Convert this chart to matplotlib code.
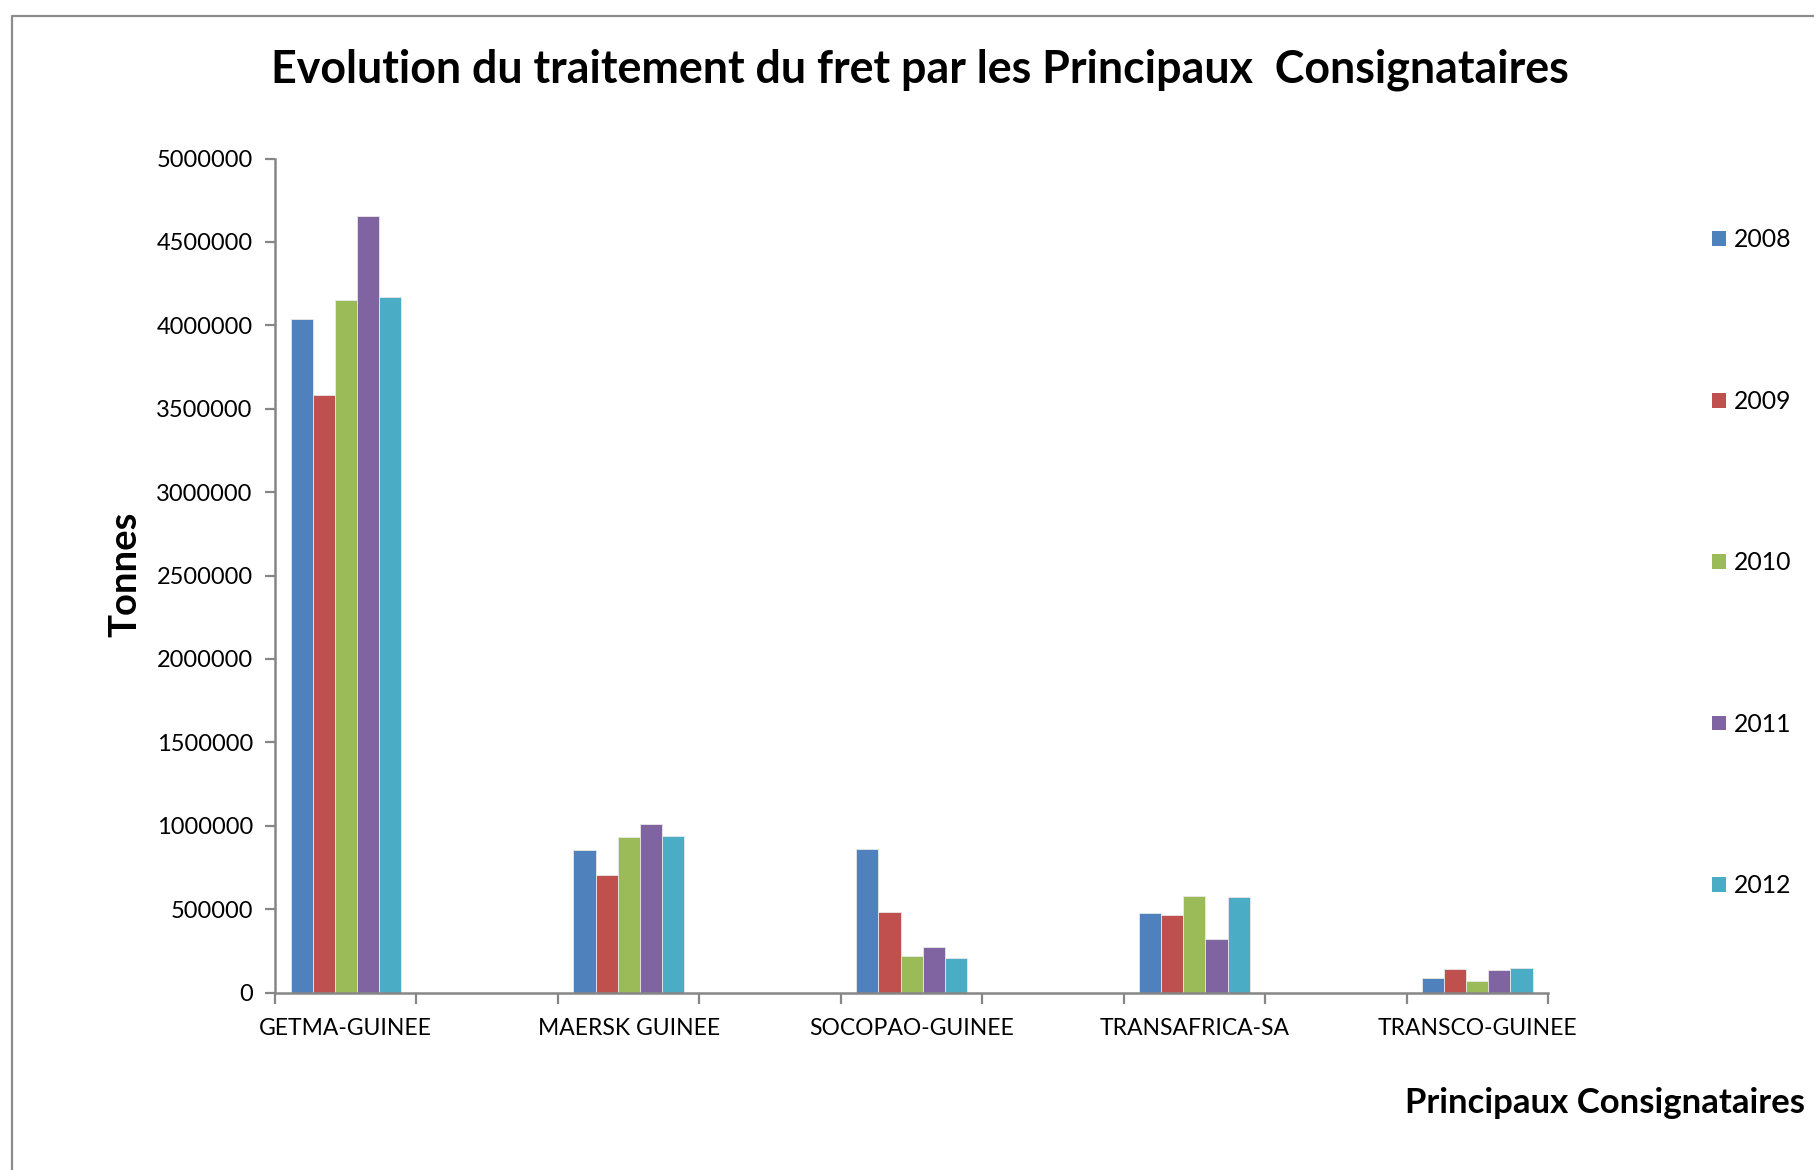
import numpy as np
import matplotlib
matplotlib.use("Agg")
import matplotlib.pyplot as plt
from matplotlib.lines import Line2D
from matplotlib.patches import Patch

# data
categories = ["GETMA-GUINEE", "MAERSK GUINEE", "SOCOPAO-GUINEE", "TRANSAFRICA-SA", "TRANSCO-GUINEE"]
years = ["2008", "2009", "2010", "2011", "2012"]
v2008 = [4040000, 852000, 858000, 476000, 88000]
v2009 = [3581000, 708000, 482000, 464000, 142000]
v2010 = [4153000, 932000, 220000, 578000, 68000]
v2011 = [4656000, 1012000, 276000, 324000, 134000]
v2012 = [4172000, 936000, 206000, 574000, 146000]
series = [v2008, v2009, v2010, v2011, v2012]
colors = ["#4F81BD", "#C0504D", "#9BBB59", "#8064A2", "#4BACC6"]
yticks = [0, 500000, 1000000, 1500000, 2000000, 2500000, 3000000, 3500000, 4000000, 4500000, 5000000]

plt.rcParams['font.family'] = ['Lato', 'DejaVu Sans']
grey = "#868686"

fig = plt.figure(figsize=(18.14, 11.70), dpi=100)
ax = fig.add_axes([0.1516, 0.1516, 0.7018, 0.7129])

# every other category slot is left empty, like in the original sheet
pos = np.arange(len(categories)) * 2
w = 0.156
for i, vals in enumerate(series):
    ax.bar(pos + (i - 2) * w, vals, width=w, color=colors[i],
           edgecolor="#e8e8e8", linewidth=0.6, label=years[i])

ax.set_xlim(-0.5, pos[-1] + 0.5)
ax.set_ylim(0, 5000000)
ax.set_yticks(yticks)
ax.set_yticklabels([str(t) for t in yticks])
ax.set_xticks(np.arange(-0.5, pos[-1] + 1, 1.0))
ax.set_xticklabels([])
ax.set_xticks(pos, minor=True)
ax.set_xticklabels(categories, minor=True)
ax.tick_params(axis="x", which="minor", length=0, pad=18, labelsize=16.5)
ax.tick_params(axis="x", which="major", length=8, width=1.6, color=grey, direction="out")
ax.tick_params(axis="y", length=7, width=1.6, color=grey, labelsize=17, pad=9)

for s in ["top", "right"]:
    ax.spines[s].set_visible(False)
for s in ["left", "bottom"]:
    ax.spines[s].set_color(grey)
    ax.spines[s].set_linewidth(1.8)

fig.text(0.507, 0.940, "Evolution du traitement du fret par les Principaux  Consignataires",
         ha="center", va="center", fontsize=32.2, fontweight="bold")
fig.text(0.069, 0.509, "Tonnes", rotation=90, ha="center", va="center",
         fontsize=27.5, fontweight="bold")
fig.text(0.995, 0.057, "Principaux Consignataires", ha="right", va="center",
         fontsize=25, fontweight="bold")

handles = [Patch(facecolor=c) for c in colors]
fig.legend(handles, years, loc="center left", bbox_to_anchor=(0.9438, 0.519),
           frameon=False, fontsize=17.8, handlelength=0.55, handleheight=0.55,
           handletextpad=0.35, labelspacing=5.6, borderpad=0, borderaxespad=0)

# outer chart border (cut off on the right and bottom)
fig.add_artist(Line2D([0.0064, 0.0064, 1.0], [0.0, 0.9863, 0.9863],
                      transform=fig.transFigure, color="#8c8c8c", linewidth=1.6))

fig.savefig("out.png", dpi=100)
